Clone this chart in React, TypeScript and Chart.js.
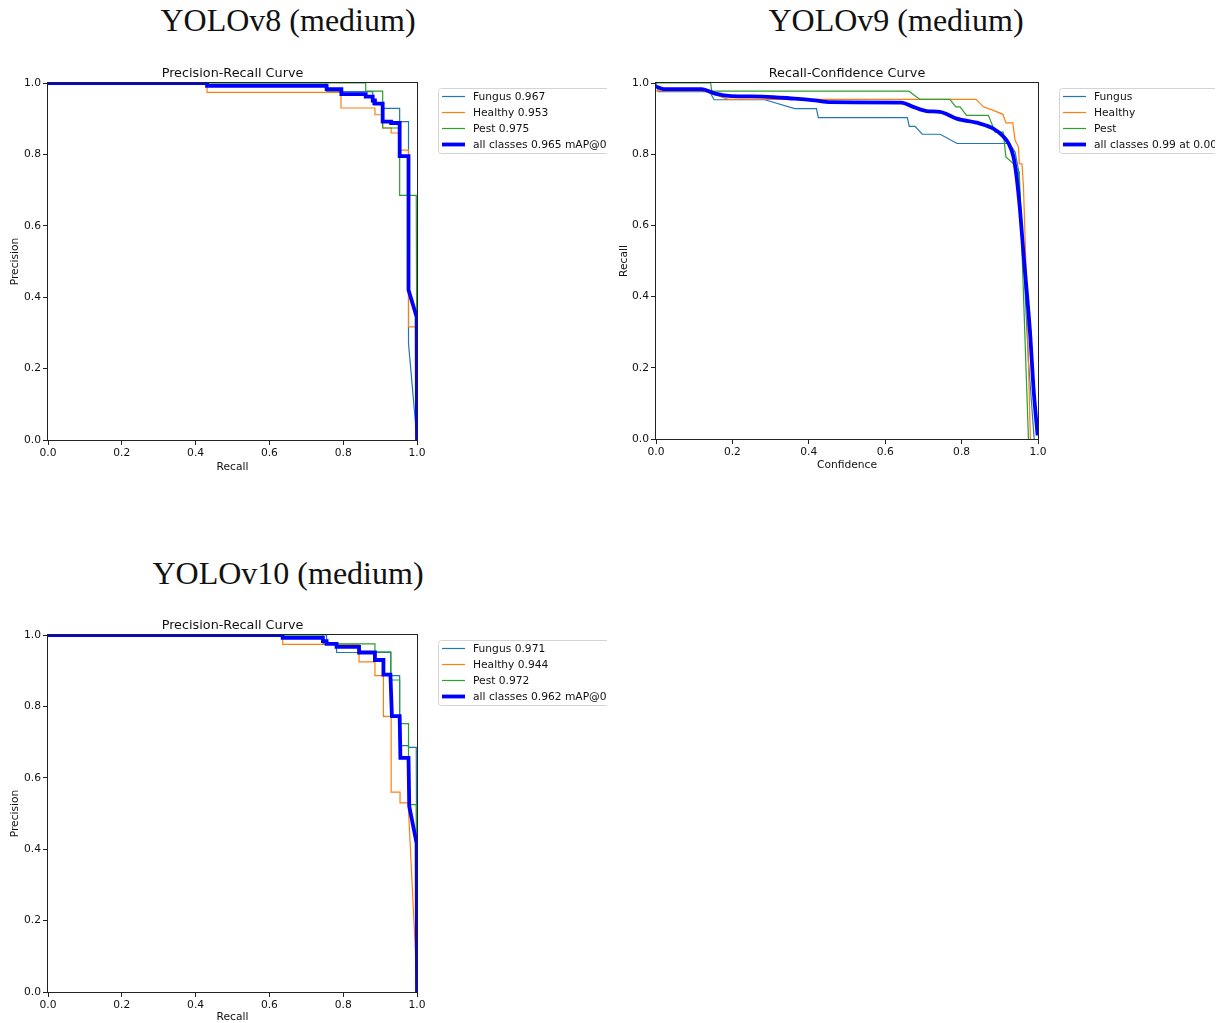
import React, { useEffect, useRef } from "react";
import { Chart, registerables } from "chart.js";

Chart.register(...registerables);

// ---------- shared ----------
const CLASS_COLORS = ["#1f77b4", "#ff7f0e", "#2ca02c"];
const ALL_COLOR = "#0000ff";
const AXIS_TICKS = [0, 0.2, 0.4, 0.6, 0.8, 1.0];
const SMALL = 10.7;
const TITLE = 12.8;
const FAMILY = "'DejaVu Sans', sans-serif";

// ---------- YOLOv8 (medium): Precision-Recall ----------
const v8Labels = ["Fungus 0.967", "Healthy 0.953", "Pest 0.975", "all classes 0.965 mAP@0.5"];
const v8FungusR = [0, 0.755, 0.755, 0.88, 0.88, 0.907, 0.907, 0.953, 0.953, 0.977, 0.977, 1.0];
const v8FungusP = [1.0, 1.0, 0.976, 0.976, 0.94, 0.94, 0.929, 0.929, 0.892, 0.892, 0.27, 0.0];
const v8HealthyR = [0, 0.431, 0.431, 0.794, 0.794, 0.886, 0.886, 0.907, 0.907, 0.93, 0.93, 0.953, 0.953, 0.977, 0.977, 0.998, 1.0];
const v8HealthyP = [1.0, 1.0, 0.974, 0.974, 0.93, 0.93, 0.911, 0.911, 0.874, 0.874, 0.86, 0.86, 0.812, 0.812, 0.317, 0.317, 0.0];
const v8PestR = [0, 0.861, 0.861, 0.907, 0.907, 0.953, 0.953, 0.998, 1.0];
const v8PestP = [1.0, 1.0, 0.977, 0.977, 0.874, 0.874, 0.685, 0.685, 0.0];
const v8AllR = [0, 0.431, 0.431, 0.755, 0.755, 0.795, 0.795, 0.861, 0.861, 0.88, 0.88, 0.886, 0.886, 0.907, 0.907, 0.93, 0.93, 0.953, 0.953, 0.977, 0.977, 0.999, 1.0];
const v8AllP = [1.0, 1.0, 0.992, 0.992, 0.983, 0.983, 0.969, 0.969, 0.962, 0.962, 0.951, 0.951, 0.942, 0.942, 0.892, 0.892, 0.888, 0.888, 0.795, 0.795, 0.42, 0.345, 0.0];

// ---------- YOLOv9 (medium): Recall-Confidence ----------
const v9Labels = ["Fungus", "Healthy", "Pest", "all classes 0.99 at 0.000"];
const v9FungusC = [0, 0.006, 0.14, 0.152, 0.285, 0.363, 0.42, 0.425, 0.658, 0.663, 0.678, 0.697, 0.744, 0.788, 0.925, 0.94, 0.949, 0.96, 0.975, 0.99];
const v9FungusR = [1.0, 0.976, 0.976, 0.953, 0.953, 0.928, 0.928, 0.903, 0.903, 0.878, 0.878, 0.856, 0.856, 0.83, 0.83, 0.806, 0.755, 0.55, 0.22, 0.0];
const v9HealthyC = [0, 0.124, 0.19, 0.838, 0.857, 0.883, 0.908, 0.916, 0.934, 0.94, 0.949, 0.951, 0.958, 0.962, 0.968, 0.98];
const v9HealthyR = [0.978, 0.978, 0.954, 0.954, 0.933, 0.923, 0.912, 0.888, 0.888, 0.839, 0.82, 0.773, 0.773, 0.708, 0.502, 0.0];
const v9PestC = [0, 0.143, 0.146, 0.662, 0.691, 0.769, 0.785, 0.796, 0.813, 0.87, 0.888, 0.909, 0.916, 0.936, 0.951, 0.975];
const v9PestR = [1.0, 1.0, 0.977, 0.977, 0.954, 0.954, 0.933, 0.933, 0.909, 0.909, 0.862, 0.862, 0.792, 0.773, 0.75, 0.0];
const v9AllC = [0, 0.02, 0.119, 0.155, 0.197, 0.28, 0.363, 0.415, 0.456, 0.642, 0.673, 0.708, 0.743, 0.787, 0.848, 0.883, 0.909, 0.923, 0.936, 0.944, 0.953, 0.962, 0.971, 0.98, 0.988, 0.999];
const v9AllR = [0.99, 0.983, 0.983, 0.97, 0.963, 0.962, 0.956, 0.951, 0.946, 0.945, 0.933, 0.921, 0.919, 0.9, 0.886, 0.872, 0.85, 0.83, 0.792, 0.736, 0.642, 0.521, 0.408, 0.287, 0.146, 0.01];

// ---------- YOLOv10 (medium): Precision-Recall ----------
const v10Labels = ["Fungus 0.971", "Healthy 0.944", "Pest 0.972", "all classes 0.962 mAP@0.5"];
const v10FungusR = [0, 0.755, 0.755, 0.782, 0.782, 0.929, 0.929, 0.953, 0.953, 0.977, 0.977, 0.998, 1.0];
const v10FungusP = [1.0, 1.0, 0.977, 0.977, 0.951, 0.951, 0.886, 0.886, 0.69, 0.69, 0.685, 0.685, 0.0];
const v10HealthyR = [0, 0.636, 0.636, 0.843, 0.843, 0.886, 0.886, 0.909, 0.909, 0.93, 0.93, 0.954, 0.954, 0.976, 0.999, 1.0];
const v10HealthyP = [1.0, 1.0, 0.974, 0.974, 0.925, 0.925, 0.886, 0.886, 0.772, 0.772, 0.56, 0.56, 0.53, 0.53, 0.045, 0.0];
const v10PestR = [0, 0.745, 0.745, 0.886, 0.886, 0.929, 0.929, 0.953, 0.953, 0.977, 0.977, 0.998, 1.0];
const v10PestP = [1.0, 1.0, 0.975, 0.975, 0.953, 0.953, 0.874, 0.874, 0.752, 0.752, 0.525, 0.525, 0.0];
const v10AllR = [0, 0.636, 0.636, 0.745, 0.745, 0.755, 0.755, 0.782, 0.782, 0.843, 0.843, 0.886, 0.886, 0.909, 0.909, 0.928, 0.932, 0.953, 0.955, 0.977, 0.979, 0.999, 1.0];
const v10AllP = [1.0, 1.0, 0.992, 0.992, 0.983, 0.983, 0.975, 0.975, 0.967, 0.967, 0.951, 0.951, 0.93, 0.93, 0.889, 0.889, 0.773, 0.773, 0.656, 0.656, 0.52, 0.416, 0.0];

// ---------- helpers ----------
const pts = (xs: number[], ys: number[]) => xs.map((x, i) => ({ x, y: ys[i] }));

function makeDatasets(labels: string[], series: [number[], number[]][], smoothAll: boolean) {
  const orders = [3, 2, 1];
  const ds: any[] = series.slice(0, 3).map((s, i) => ({
    label: labels[i],
    data: pts(s[0], s[1]),
    borderColor: CLASS_COLORS[i],
    backgroundColor: CLASS_COLORS[i],
    borderWidth: 1.2,
    pointRadius: 0,
    tension: 0,
    order: orders[i],
  }));
  ds.push({
    label: labels[3],
    data: pts(series[3][0], series[3][1]),
    borderColor: ALL_COLOR,
    backgroundColor: ALL_COLOR,
    borderWidth: 3.8,
    pointRadius: 0,
    tension: 0,
    cubicInterpolationMode: smoothAll ? "monotone" : "default",
    order: 0,
  });
  return ds;
}

const spinesPlugin = {
  id: "spines",
  afterDatasetsDraw(chart: any) {
    const { ctx, chartArea } = chart;
    ctx.save();
    ctx.strokeStyle = "#222";
    ctx.lineWidth = 1;
    const l = Math.round(chartArea.left) - 0.5;
    const t = Math.round(chartArea.top) - 0.5;
    const r = Math.round(chartArea.right) + 0.5;
    const b = Math.round(chartArea.bottom) + 0.5;
    ctx.strokeRect(l, t, r - l, b - t);
    ctx.restore();
  },
};

const legendPlugin = {
  id: "mplLegend",
  afterDraw(chart: any, _args: any, opts: any) {
    const { ctx } = chart;
    const x = opts.x;
    const y = opts.y;
    ctx.save();
    ctx.font = `${SMALL}px ${FAMILY}`;
    const dsets = chart.data.datasets;
    const tw = Math.max(...dsets.map((d: any) => ctx.measureText(d.label).width));
    const w = 35 + tw + 8;
    const h = 65;
    ctx.beginPath();
    ctx.roundRect(x + 0.5, y + 0.5, w, h, 3);
    ctx.fillStyle = "rgba(255,255,255,0.8)";
    ctx.fill();
    ctx.strokeStyle = "#d4d4d4";
    ctx.lineWidth = 1;
    ctx.stroke();
    dsets.forEach((d: any, i: number) => {
      const ry = y + 8.5 + i * 16;
      ctx.beginPath();
      ctx.moveTo(x + 4, ry);
      ctx.lineTo(x + 27, ry);
      ctx.strokeStyle = d.borderColor;
      ctx.lineWidth = d.borderWidth;
      ctx.stroke();
      ctx.fillStyle = "#111";
      ctx.textBaseline = "middle";
      ctx.textAlign = "left";
      ctx.fillText(d.label, x + 35, ry + 0.5);
    });
    ctx.restore();
  },
};

type PanelProps = {
  left: number;
  top: number;
  width: number;
  height: number;
  area: { l: number; t: number; r: number; b: number };
  titleY: number;
  title: string;
  xLabel: string;
  yLabel: string;
  xLabelY: number;
  yLabelX: number;
  legendX: number;
  legendY: number;
  datasets: any[];
};

function Panel(p: PanelProps) {
  const ref = useRef<HTMLCanvasElement | null>(null);
  useEffect(() => {
    if (!ref.current) return;
    const L = TITLE * 1.2;
    const titleCenter = p.titleY - p.top;
    const chartTop = p.area.t - p.top;
    const yAxisW = p.area.l - p.left;
    const xAxisH = p.top + p.height - p.area.b;
    const smallLH = SMALL * 1.2;
    const tickOpts = {
      color: "#111",
      font: { family: FAMILY, size: SMALL },
      padding: 2,
      callback: (v: any) => Number(v).toFixed(1),
    };
    const gridOpts = {
      display: true,
      drawOnChartArea: false,
      drawTicks: true,
      tickLength: 5,
      color: "#222",
      tickColor: "#222",
      lineWidth: 1,
    };
    const chart = new Chart(ref.current, {
      type: "line",
      data: { datasets: p.datasets },
      plugins: [spinesPlugin, legendPlugin],
      options: {
        animation: false,
        responsive: false,
        devicePixelRatio: 1,
        events: [],
        layout: {
          padding: { left: 0, top: 0, right: p.left + p.width - p.area.r, bottom: 0 },
        },
        scales: {
          x: {
            type: "linear",
            min: 0,
            max: 1,
            offset: false,
            border: { display: false },
            grid: gridOpts,
            ticks: { ...tickOpts, maxRotation: 0, autoSkip: false },
            afterBuildTicks: (s: any) => {
              s.ticks = AXIS_TICKS.map((v) => ({ value: v }));
            },
            afterFit: (s: any) => {
              s.height = xAxisH;
            },
            title: {
              display: true,
              text: p.xLabel,
              color: "#111",
              font: { family: FAMILY, size: SMALL, lineHeight: 1.2 },
              padding: { top: 0, bottom: p.top + p.height - p.xLabelY - smallLH / 2 },
            },
          },
          y: {
            type: "linear",
            min: 0,
            max: 1,
            border: { display: false },
            grid: gridOpts,
            ticks: { ...tickOpts, autoSkip: false },
            afterBuildTicks: (s: any) => {
              s.ticks = AXIS_TICKS.map((v) => ({ value: v }));
            },
            afterFit: (s: any) => {
              s.width = yAxisW;
            },
            title: {
              display: true,
              text: p.yLabel,
              color: "#111",
              font: { family: FAMILY, size: SMALL, lineHeight: 1.2 },
              padding: { top: p.yLabelX - p.left - smallLH / 2, bottom: 0 },
            },
          },
        },
        plugins: {
          legend: { display: false },
          tooltip: { enabled: false },
          title: {
            display: true,
            text: p.title,
            color: "#111",
            fullSize: false,
            font: { family: FAMILY, size: TITLE, weight: "normal", lineHeight: 1.2 },
            padding: { top: titleCenter - L / 2, bottom: chartTop - titleCenter - L / 2 },
          },
          mplLegend: { x: p.legendX - p.left, y: p.legendY - p.top },
        } as any,
      } as any,
    });
    return () => chart.destroy();
  }, []);
  return (
    <canvas
      ref={ref}
      width={p.width}
      height={p.height}
      style={{ position: "absolute", left: p.left, top: p.top, width: p.width, height: p.height, display: "block" }}
    />
  );
}

function BigTitle({ text, cx, baseline }: { text: string; cx: number; baseline: number }) {
  return (
    <div
      style={{
        position: "absolute",
        left: cx - 250,
        width: 500,
        top: baseline - 26.8,
        fontFamily: "'Liberation Serif', 'Times New Roman', serif",
        fontSize: 32,
        lineHeight: "32px",
        textAlign: "center",
        whiteSpace: "nowrap",
        color: "#111",
      }}
    >
      {text}
    </div>
  );
}

export default function App() {
  const v8 = makeDatasets(v8Labels, [[v8FungusR, v8FungusP], [v8HealthyR, v8HealthyP], [v8PestR, v8PestP], [v8AllR, v8AllP]], false);
  const v9 = makeDatasets(v9Labels, [[v9FungusC, v9FungusR], [v9HealthyC, v9HealthyR], [v9PestC, v9PestR], [v9AllC, v9AllR]], true);
  const v10 = makeDatasets(v10Labels, [[v10FungusR, v10FungusP], [v10HealthyR, v10HealthyP], [v10PestR, v10PestP], [v10AllR, v10AllP]], false);
  return (
    <div style={{ position: "absolute", left: 0, top: 0, width: 1228, height: 1023, overflow: "hidden", background: "#fff" }}>
      <BigTitle text="YOLOv8 (medium)" cx={288} baseline={30.7} />
      <BigTitle text="YOLOv9 (medium)" cx={896} baseline={30.7} />
      <BigTitle text="YOLOv10 (medium)" cx={288} baseline={583.3} />
      <Panel
        left={0} top={50} width={607} height={422}
        area={{ l: 48, t: 83, r: 417, b: 440 }}
        titleY={73.5} title="Precision-Recall Curve"
        xLabel="Recall" yLabel="Precision" xLabelY={467} yLabelX={15}
        legendX={438} legendY={88}
        datasets={v8}
      />
      <Panel
        left={610} top={50} width={605} height={421}
        area={{ l: 656, t: 83, r: 1038, b: 439 }}
        titleY={73.5} title="Recall-Confidence Curve"
        xLabel="Confidence" yLabel="Recall" xLabelY={465} yLabelX={624}
        legendX={1059} legendY={88}
        datasets={v9}
      />
      <Panel
        left={0} top={601} width={607} height={422}
        area={{ l: 48, t: 635, r: 417, b: 992 }}
        titleY={625.5} title="Precision-Recall Curve"
        xLabel="Recall" yLabel="Precision" xLabelY={1017.5} yLabelX={15}
        legendX={438} legendY={640}
        datasets={v10}
      />
    </div>
  );
}
